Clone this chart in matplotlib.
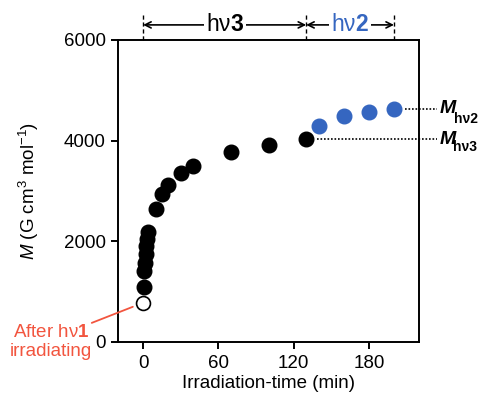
import matplotlib
matplotlib.use("Agg")
import matplotlib.pyplot as plt

plt.rcParams["font.family"] = ["Liberation Sans", "DejaVu Sans"]
plt.rcParams["mathtext.fontset"] = "custom"
plt.rcParams["mathtext.rm"] = "Liberation Sans"
plt.rcParams["mathtext.it"] = "Liberation Sans:italic"
plt.rcParams["mathtext.bf"] = "Liberation Sans:bold"

# 磁化の時間変化（min, G cm3 mol-1）
t_start = 0
m_start = 780

t_hv3 = [0.5, 1, 1.5, 2, 2.5, 3, 4, 10, 15, 20, 30, 40, 70, 100, 130]
m_hv3 = [1100, 1410, 1570, 1740, 1900, 2040, 2180, 2640, 2940, 3110, 3350, 3500, 3770, 3920, 4030]

t_hv2 = [140, 160, 180, 200]
m_hv2 = [4300, 4500, 4570, 4630]

x_ticks = [0, 60, 120, 180]
y_ticks = [0, 2000, 4000, 6000]

blue = "#3566c0"
red = "#f2553f"
fs = 13.5

fig = plt.figure(figsize=(4.8, 4.0), dpi=100)
ax = fig.add_axes([0.246, 0.145, 0.627, 0.755])

ax.plot(t_hv3, m_hv3, "o", color="black", ms=10.5, mec="black", zorder=3, clip_on=False)
ax.plot(t_hv2, m_hv2, "o", color=blue, ms=10.5, mec=blue, zorder=3, clip_on=False)
ax.plot([t_start], [m_start], "o", mfc="white", mec="black", mew=1.2, ms=10, zorder=3)

ax.set_xlim(-20, 220)
ax.set_ylim(0, 6000)
ax.set_xticks(x_ticks)
ax.set_yticks(y_ticks)
ax.tick_params(direction="out", length=5, width=1.4, labelsize=fs, pad=4)
for sp in ax.spines.values():
    sp.set_linewidth(1.4)

ax.set_xlabel("Irradiation-time (min)", fontsize=fs)
ax.set_ylabel(r"$M$ (G cm$^3$ mol$^{-1}$)", fontsize=fs)
ax.xaxis.set_label_coords(0.5, -0.11)
ax.yaxis.set_label_coords(-0.255, 0.5)

# 上部の照射区間
xt = ax.get_xaxis_transform()
bounds = [t_start, t_hv3[-1], t_hv2[-1]]
for b in bounds:
    ax.plot([b, b], [1.0, 1.09], transform=xt, clip_on=False,
            color="black", lw=1.0, ls=(0, (3, 2)))

segments = [(bounds[0], bounds[1], r"$\mathrm{hν}\mathbf{3}$", "black"),
            (bounds[1], bounds[2], r"$\mathrm{hν}\mathbf{2}$", blue)]
for x0, x1, label, col in segments:
    ax.annotate("", xy=(x0, 1.05), xytext=(x1, 1.05), xycoords=xt, textcoords=xt,
                arrowprops=dict(arrowstyle="<->", lw=1.2, color="black",
                                shrinkA=0, shrinkB=0, mutation_scale=11))
    ax.text((x0 + x1) / 2, 1.05, label, transform=xt, ha="center", va="center",
            fontsize=16.5, color=col, clip_on=False,
            bbox=dict(facecolor="white", edgecolor="none", pad=1.5))

# 右側の M ラベル
x_end = 234
for t, m, sub, dx, dy in [(t_hv3[-1], m_hv3[-1], "hν3", 11.5, -6),
                          (t_hv2[-1], m_hv2[-1], "hν2", 12.5, -7)]:
    ax.plot([t + 9, x_end], [m, m], color="black", lw=1.2, ls=(0, (1, 1.1)),
            clip_on=False)
    ax.annotate("M", xy=(x_end, m), xytext=(2.5, 0), textcoords="offset points",
                ha="left", va="center", fontsize=14, fontweight="bold",
                fontstyle="italic", annotation_clip=False)
    ax.annotate(sub, xy=(x_end, m), xytext=(dx, dy),
                textcoords="offset points", ha="left", va="center",
                fontsize=10, fontweight="bold", annotation_clip=False)

# 開始点の注釈
ax.annotate("", xy=(t_start, m_start), xytext=(-37, -14.5), textcoords="offset points",
            arrowprops=dict(arrowstyle="-", color=red, lw=1.3, shrinkA=0, shrinkB=8),
            annotation_clip=False)
fig.text(51 / 480, 1 - 342 / 400, "After $\\mathrm{hν}\\mathbf{1}$\nirradiating",
         ha="center", va="center", fontsize=fs, color=red, linespacing=1.1)

fig.savefig("out.png", dpi=100)
